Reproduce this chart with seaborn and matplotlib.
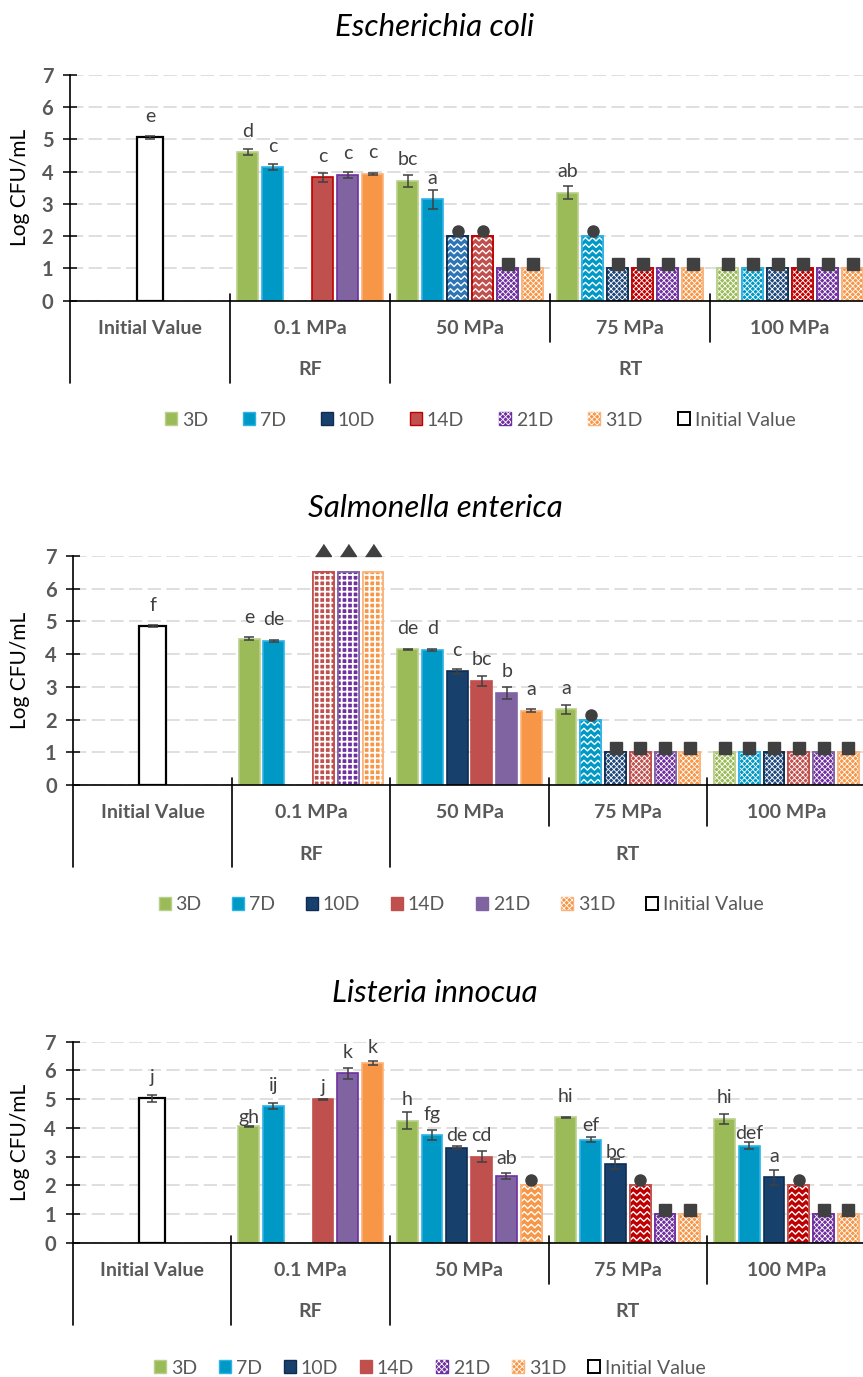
import numpy as np
import pandas as pd
import matplotlib
matplotlib.use("Agg")
import matplotlib.pyplot as plt
import matplotlib.transforms as mtransforms
from matplotlib.patches import Rectangle, Patch
from matplotlib.legend_handler import HandlerTuple
import seaborn as sns

W, H = 863, 1377
NAN = np.nan

DAYS = ["3D", "7D", "10D", "14D", "21D", "31D"]
GROUPS = ["0.1 MPa", "50 MPa", "75 MPa", "100 MPa"]
CATS = ["Initial Value"] + GROUPS
STORAGE = [("RF", 1), ("RT", 3)]   # second-level label, centred on category index

# ---- Escherichia coli -------------------------------------------------------
ECOLI_INIT, ECOLI_INIT_SD, ECOLI_INIT_LETTER = 5.07, 0.04, "e"
ECOLI_MEAN = [[4.60, 4.14, NAN, 3.83, 3.90, 3.93],
              [3.72, 3.14, 2.0, 2.0, 1.0, 1.0],
              [3.35, 2.0, 1.0, 1.0, 1.0, 1.0],
              [1.0, 1.0, 1.0, 1.0, 1.0, 1.0]]
ECOLI_SD = [[0.09, 0.09, NAN, 0.14, 0.08, 0.03],
            [0.18, 0.30, 0, 0, 0, 0],
            [0.21, 0, 0, 0, 0, 0],
            [0, 0, 0, 0, 0, 0]]
ECOLI_LETTER = [["d", "c", "", "c", "c", "c"],
                ["bc", "a", "", "", "", ""],
                ["ab", "", "", "", "", ""],
                ["", "", "", "", "", ""]]
ECOLI_FLAG = [["", "", "", "", "", ""],
              ["", "", "●", "●", "■", "■"],
              ["", "●", "■", "■", "■", "■"],
              ["■", "■", "■", "■", "■", "■"]]

# ---- Salmonella enterica ----------------------------------------------------
SAL_INIT, SAL_INIT_SD, SAL_INIT_LETTER = 4.86, 0.04, "f"
SAL_MEAN = [[4.47, 4.41, NAN, 6.5, 6.5, 6.5],
            [4.15, 4.13, 3.47, 3.18, 2.82, 2.27],
            [2.31, 2.0, 1.0, 1.0, 1.0, 1.0],
            [1.0, 1.0, 1.0, 1.0, 1.0, 1.0]]
SAL_SD = [[0.05, 0.03, NAN, 0, 0, 0],
          [0.02, 0.04, 0.07, 0.15, 0.19, 0.05],
          [0.14, 0, 0, 0, 0, 0],
          [0, 0, 0, 0, 0, 0]]
SAL_LETTER = [["e", "de", "", "", "", ""],
              ["de", "d", "c", "bc", "b", "a"],
              ["a", "", "", "", "", ""],
              ["", "", "", "", "", ""]]
SAL_FLAG = [["", "", "", "▲", "▲", "▲"],
            ["", "", "", "", "", ""],
            ["", "●", "■", "■", "■", "■"],
            ["■", "■", "■", "■", "■", "■"]]

# ---- Listeria innocua -------------------------------------------------------
LIS_INIT, LIS_INIT_SD, LIS_INIT_LETTER = 5.03, 0.13, "j"
LIS_MEAN = [[4.06, 4.76, NAN, 4.99, 5.90, 6.26],
            [4.25, 3.75, 3.31, 3.00, 2.33, 2.0],
            [4.37, 3.58, 2.74, 2.0, 1.0, 1.0],
            [4.31, 3.38, 2.28, 2.0, 1.0, 1.0]]
LIS_SD = [[0.02, 0.09, NAN, 0.01, 0.20, 0.07],
          [0.29, 0.17, 0.06, 0.19, 0.11, 0],
          [0.01, 0.09, 0.16, 0, 0, 0],
          [0.17, 0.13, 0.26, 0, 0, 0]]
LIS_LETTER = [["gh", "ij", "", "j", "k", "k"],
              ["h", "fg", "de", "cd", "ab", ""],
              ["hi", "ef", "bc", "", "", ""],
              ["hi", "def", "a", "", "", ""]]
LIS_FLAG = [["", "", "", "", "", ""],
            ["", "", "", "", "", "●"],
            ["", "", "", "●", "■", "■"],
            ["", "", "", "●", "■", "■"]]

# ---- styling ----------------------------------------------------------------
FILL = {"3D": "#9BBB59", "7D": "#0099C6", "10D": "#17406D",
        "14D": "#C0504D", "21D": "#8064A2", "31D": "#F79646"}
EDGE = {"3D": "#B9D08A", "7D": "#2DB3E6", "10D": "#0F2D52",
        "14D": "#C00000", "21D": "#7030A0", "31D": "#FAB27A"}
CHECK_FILL = {"3D": "#9BBB59", "7D": "#0099C6", "10D": "#1F497D",
              "14D": "#C00000", "21D": "#7030A0", "31D": "#F79646"}
WAVE_FILL = {**FILL, "10D": "#2E75B6"}
GRID_FILL = {**CHECK_FILL, "14D": "#C0504D"}
GRAY = "#595959"
DARK = "#404040"
CHECK_HATCH = "xxxxxx"
MARK = {"●": ("o", 8.0, 3.6), "■": ("s", 8.6, 2.9),
        "▲": ([(-1, -0.75), (1, -0.75), (0, 0.75)], 11.5, 16.2)}

BAR_W, BAR_GAP, INIT_W = 0.9375, 0.16, 0.165
SLOT = BAR_W / len(DAYS)

PANELS = [
    dict(title="Escherichia coli", init=(ECOLI_INIT, ECOLI_INIT_SD, ECOLI_INIT_LETTER),
         mean=ECOLI_MEAN, sd=ECOLI_SD, letter=ECOLI_LETTER, flag=ECOLI_FLAG,
         box=(70, 870, 75, 300.7), title_y=27, legend=(480, 420, 1.8),
         legend_hatch=("21D", "31D"), edge={}, check={}, wave={}, nudge={}),
    dict(title="Salmonella enterica", init=(SAL_INIT, SAL_INIT_SD, SAL_INIT_LETTER),
         mean=SAL_MEAN, sd=SAL_SD, letter=SAL_LETTER, flag=SAL_FLAG,
         box=(73.3, 865.7, 556, 785), title_y=508, legend=(461, 905, 1.58),
         legend_hatch=("31D",), edge={"14D": "#C0504D", "21D": "#8064A2"},
         check={"14D": "#C0504D"}, wave={}, nudge={}),
    dict(title="Listeria innocua", init=(LIS_INIT, LIS_INIT_SD, LIS_INIT_LETTER),
         mean=LIS_MEAN, sd=LIS_SD, letter=LIS_LETTER, flag=LIS_FLAG,
         box=(72.7, 865.7, 1041.7, 1242.7), title_y=993, legend=(430, 1368, 1.12),
         legend_hatch=("21D", "31D"), edge={"14D": "#C0504D"}, check={},
         wave={"14D": "#C00000"},
         nudge={("0.1 MPa", "3D"): -12, ("0.1 MPa", "14D"): -9, ("0.1 MPa", "31D"): -6,
                ("50 MPa", "10D"): -9, ("50 MPa", "21D"): -4, ("75 MPa", "7D"): -7,
                ("75 MPa", "10D"): -9, ("100 MPa", "7D"): -9}),
]

sns.set_theme(style="white")
plt.rcParams["font.family"] = ["Lato", "DejaVu Sans"]
plt.rcParams["hatch.linewidth"] = 0.6

fig = plt.figure(figsize=(W / 100, H / 100), dpi=100)


def long_frame(p):
    rows = []
    for gi, g in enumerate(GROUPS):
        for di, d in enumerate(DAYS):
            m = p["mean"][gi][di]
            if np.isnan(m):
                continue
            rows.append(dict(group=g, day=d, mean=m, sd=p["sd"][gi][di],
                             letter=p["letter"][gi][di], flag=p["flag"][gi][di]))
    return pd.DataFrame(rows)


def add_waves(ax, rect, px_x, px_y):
    x0, y0, w, h = rect.get_x(), rect.get_y(), rect.get_width(), rect.get_height()
    period, amp, step = 7.0 / px_x, 1.7 / px_y, 6.4 / px_y
    xs = np.arange(x0 - period, x0 + w + period, period / 2)
    zig = np.where(np.arange(len(xs)) % 2 == 0, -amp, amp)
    for yc in np.arange(y0 + step * 0.6, y0 + h, step):
        ln, = ax.plot(xs, yc + zig, color="white", lw=1.0, zorder=1.6)
        ln.set_clip_path(rect)


def annotate_bar(ax, cx, top, sd, letter, flag, nudge_px=0):
    if sd and not np.isnan(sd) and sd > 0:
        ax.errorbar(cx, top, yerr=sd, fmt="none", ecolor=DARK, elinewidth=1.1,
                    capsize=3.6, capthick=1.1, zorder=3)
    if letter:
        ax.annotate(letter, (cx, top), xytext=(0, (21 + nudge_px) * 0.72),
                    textcoords="offset points", ha="center", va="center",
                    fontsize=14, color=DARK, zorder=4)
    if flag:
        m, ms, dy = MARK[flag]
        tr = ax.transData + mtransforms.ScaledTranslation(0, dy / 72, fig.dpi_scale_trans)
        ax.plot([cx], [top], marker=m, ms=ms, color=DARK, mec=DARK, ls="none",
                transform=tr, clip_on=False, zorder=5)


for p in PANELS:
    l, r, t, b = p["box"]
    ax = fig.add_axes([l / W, 1 - b / H, (r - l) / W, (b - t) / H])
    px_x, px_y = (r - l) / len(CATS), (b - t) / 7.0
    edge = {**EDGE, **p["edge"]}
    check = {**CHECK_FILL, **p["check"]}
    wave = {**WAVE_FILL, **p["wave"]}

    df = long_frame(p)
    sns.barplot(data=df, x="group", y="mean", hue="day", order=CATS, hue_order=DAYS,
                palette=FILL, saturation=1, width=BAR_W, gap=BAR_GAP, errorbar=None,
                legend=False, linewidth=1.2, ax=ax)
    bars = [bp for bp in ax.patches if np.isfinite(bp.get_height()) and bp.get_height() > 0]
    lookup = df.set_index(["group", "day"])
    for bp in bars:
        cx = bp.get_x() + bp.get_width() / 2
        ci = int(round(cx))
        di = int(round((cx - ci) / SLOT + 2.5))
        g, d = CATS[ci], DAYS[di]
        row = lookup.loc[(g, d)]
        bp.set_edgecolor(edge[d])
        flag = row["flag"]
        if flag:
            fillc = {"●": wave, "■": check, "▲": GRID_FILL}[flag][d]
            bp.set_facecolor(fillc)
            if flag == "●":
                add_waves(ax, bp, px_x, px_y)
            else:
                hp = Rectangle((bp.get_x(), 0), bp.get_width(), bp.get_height(),
                               facecolor="none", edgecolor="white", lw=0,
                               hatch=CHECK_HATCH if flag == "■" else "+++", zorder=1.5)
                if flag == "▲" and hasattr(hp, "set_hatch_linewidth"):
                    hp.set_hatch_linewidth(1.3)
                ax.add_patch(hp)
            ax.add_patch(Rectangle((bp.get_x(), 0), bp.get_width(), bp.get_height(),
                                   facecolor="none", edgecolor=edge[d], lw=1.2, zorder=1.7))
        annotate_bar(ax, cx, bp.get_height(), row["sd"], row["letter"], flag,
                     p["nudge"].get((g, d), 0))

    init_val, init_sd, init_letter = p["init"]
    n_before = len(ax.patches)
    sns.barplot(data=pd.DataFrame({"group": ["Initial Value"], "mean": [init_val]}),
                x="group", y="mean", order=CATS, color="white", saturation=1,
                width=INIT_W, edgecolor="black", linewidth=1.6, errorbar=None, ax=ax)
    ip = ax.patches[n_before]
    annotate_bar(ax, ip.get_x() + ip.get_width() / 2, ip.get_height(), init_sd,
                 init_letter, "")

    # axes styling
    ax.set_xlim(-0.5, len(CATS) - 0.5)
    ax.set_ylim(0, 7)
    ax.set_yticks(range(8))
    ax.set_xlabel("")
    ax.set_ylabel("")
    ax.tick_params(axis="x", length=0, labelbottom=False)
    ax.tick_params(axis="y", direction="inout", length=10, width=1.1, color="black",
                   labelsize=14.5, labelcolor=GRAY, pad=7, left=True)
    for lab in ax.get_yticklabels():
        lab.set_fontweight("bold")
    for s in ("top", "right"):
        ax.spines[s].set_visible(False)
    for s in ("left", "bottom"):
        ax.spines[s].set_color("black")
        ax.spines[s].set_linewidth(1.2)
    ax.yaxis.grid(True, color="#D9D9D9", linestyle=(0, (8, 3.2)), lw=1.2)
    ax.xaxis.grid(False)
    ax.set_axisbelow(True)

    # multi-level category axis
    h_px = b - t
    blend = mtransforms.blended_transform_factory(ax.transData, ax.transAxes)
    for i, c in enumerate(CATS):
        ax.text(i, -27.5 / h_px, c, transform=blend, ha="center", va="center",
                fontsize=14, fontweight="bold", color=GRAY)
    for lab, xi in STORAGE:
        ax.text(xi, -69 / h_px, lab, transform=blend, ha="center", va="center",
                fontsize=14, fontweight="bold", color=GRAY)
    for xb in np.arange(-0.5, len(CATS) - 0.5):
        long_line = xb < 2
        y0 = 0 if xb < 0 else 7 / h_px
        y1 = -(82 if long_line else 41) / h_px
        ax.plot([xb, xb], [y0, y1], transform=blend, color="black", lw=1.2,
                clip_on=False, zorder=6)

    fig.text(435 / W, 1 - p["title_y"] / H, p["title"], ha="center", va="center",
             fontsize=22.5, style="italic", color="black")
    fig.text(20 / W, 1 - (t + b) / 2 / H, "Log CFU/mL", rotation=90, ha="center",
             va="center", fontsize=15, color="black")

    # legend
    handles = []
    for d in DAYS:
        if d in p["legend_hatch"]:
            handles.append((Patch(facecolor=check[d], edgecolor=edge[d], lw=1.0),
                            Patch(facecolor="none", edgecolor="white", lw=0,
                                  hatch=CHECK_HATCH)))
        else:
            handles.append(Patch(facecolor=FILL[d], edgecolor=edge[d], lw=1.0))
    handles.append(Patch(facecolor="white", edgecolor="black", lw=1.4))
    lx, ly, colsp = p["legend"]
    fig.legend(handles, DAYS + ["Initial Value"], loc="center",
               bbox_to_anchor=(lx / W, 1 - ly / H), ncol=7, frameon=False,
               fontsize=14, labelcolor=GRAY, handlelength=0.62, handleheight=0.62,
               handletextpad=0.25, columnspacing=colsp,
               handler_map={tuple: HandlerTuple(ndivide=1)})

fig.savefig("out.png", dpi=100)
